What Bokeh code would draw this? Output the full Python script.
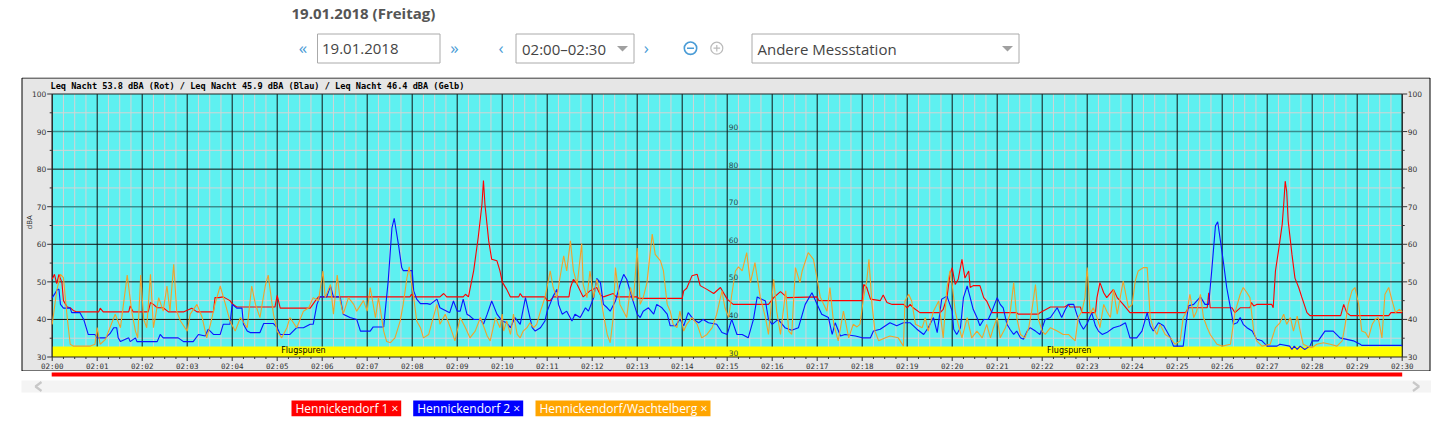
import math
from bokeh.plotting import figure
from bokeh.layouts import column
from bokeh.models import Range1d
from bokeh.embed import file_html
from bokeh.resources import INLINE
from bokeh.core.properties import value

# ---------------- data ----------------
minute_labels = ["02:00", "02:01", "02:02", "02:03", "02:04", "02:05", "02:06", "02:07",
                 "02:08", "02:09", "02:10", "02:11", "02:12", "02:13", "02:14", "02:15",
                 "02:16", "02:17", "02:18", "02:19", "02:20", "02:21", "02:22", "02:23",
                 "02:24", "02:25", "02:26", "02:27", "02:28", "02:29", "02:30"]
y_ticks = [30, 40, 50, 60, 70, 80, 90, 100]
mid_ticks = [30, 40, 50, 60, 70, 80, 90]
title_text = "Leq Nacht 53.8 dBA (Rot) / Leq Nacht 45.9 dBA (Blau) / Leq Nacht 46.4 dBA (Gelb)"
day_title = "19.01.2018 (Freitag)"
date_text = "19.01.2018"
time_text = "02:00\u201302:30"
station_text = "Andere Messstation"
legend_names = ["Hennickendorf 1", "Hennickendorf 2", "Hennickendorf/Wachtelberg"]
legend_colors = ["#ff0000", "#0000ff", "#ffa500"]
flug_label_t = [335, 1356]
flug_top = 32.8

# (seconds after 02:00, dBA)
red_pts = [
    (0, 50.7), (3, 52.0), (6, 49.5), (9, 52.0), (13, 49.8), (15, 45.0), (20, 43.3), (24, 43.1),
    (28, 42.4), (33, 42.0), (62, 42.0), (64, 43.0), (68, 42.0), (102, 42.0), (104, 43.6), (108, 42.0),
    (128, 42.0), (131, 44.5), (135, 44.0), (140, 43.1), (148, 43.1), (155, 42.0), (175, 42.0), (186, 43.0),
    (193, 42.0), (215, 42.0), (217, 45.8), (222, 45.8), (228, 46.0), (237, 45.0), (240, 44.2), (246, 43.3),
    (297, 43.3), (300, 46.4), (304, 43.0), (344, 43.0), (351, 45.0), (355, 46.0), (477, 46.0), (479, 46.7),
    (482, 46.0), (517, 46.0), (522, 46.9), (526, 46.0), (548, 46.0), (551, 46.7), (555, 46.0), (557, 48.0),
    (562, 53.0), (568, 61.8), (573, 70.6), (575, 77.0), (577, 70.6), (582, 60.9), (586, 56.0), (593, 55.6),
    (597, 52.9), (600, 50.0), (606, 48.0), (611, 46.0), (622, 46.0), (624, 46.9), (627, 46.0), (657, 46.0),
    (660, 45.0), (664, 45.0), (668, 46.0), (689, 46.0), (691, 48.5), (695, 50.7), (700, 49.3), (704, 47.6),
    (708, 46.0), (717, 47.6), (726, 48.5), (731, 46.5), (735, 46.0), (748, 46.9), (752, 46.0), (780, 46.0),
    (782, 45.6), (840, 45.6), (842, 47.6), (846, 48.3), (853, 51.6), (860, 52.0), (864, 49.0), (873, 48.0),
    (882, 46.9), (891, 48.5), (900, 45.4), (908, 44.0), (955, 44.0), (962, 45.8), (971, 47.4), (980, 45.8),
    (1020, 46.0), (1022, 45.0), (1080, 45.0), (1082, 49.3), (1086, 48.5), (1091, 45.4), (1104, 45.0), (1108, 46.5),
    (1113, 44.5), (1120, 44.0), (1135, 44.0), (1140, 43.1), (1144, 44.0), (1148, 43.1), (1157, 41.8), (1184, 41.8),
    (1188, 42.7), (1193, 45.8), (1197, 52.0), (1200, 53.8), (1204, 49.3), (1208, 50.7), (1213, 56.0), (1217, 51.0),
    (1222, 52.9), (1224, 48.5), (1228, 49.0), (1237, 49.0), (1242, 45.8), (1246, 44.9), (1253, 41.8), (1286, 41.8),
    (1288, 41.4), (1315, 41.4), (1317, 41.8), (1331, 43.3), (1350, 43.3), (1355, 44.0), (1357, 43.3), (1371, 43.3),
    (1373, 41.8), (1391, 41.8), (1393, 45.8), (1397, 49.8), (1402, 47.1), (1406, 45.8), (1415, 48.0), (1420, 45.8),
    (1428, 44.0), (1437, 41.8), (1511, 41.8), (1515, 43.1), (1540, 43.1), (1542, 47.1), (1544, 43.1), (1573, 43.1),
    (1577, 41.8), (1584, 43.1), (1597, 43.1), (1599, 44.5), (1602, 43.6), (1606, 44.0), (1626, 44.0), (1628, 43.1),
    (1631, 52.9), (1635, 58.2), (1640, 65.3), (1642, 70.6), (1644, 76.8), (1646, 74.0), (1648, 66.2), (1653, 57.3),
    (1657, 51.0), (1662, 48.5), (1666, 46.0), (1673, 41.8), (1677, 41.0), (1718, 41.0), (1722, 44.0), (1726, 41.8),
    (1731, 41.0), (1782, 41.0), (1785, 41.8), (1800, 41.8),
]

blue_pts = [
    (0, 45.8), (4, 47.0), (7, 48.0), (9, 48.0), (11, 44.0), (15, 43.0), (24, 43.0), (26, 41.8),
    (37, 41.8), (42, 40.0), (48, 36.0), (57, 36.0), (60, 35.1), (71, 35.1), (77, 36.2), (82, 37.8),
    (86, 37.8), (88, 35.1), (91, 34.1), (102, 35.1), (104, 34.1), (111, 35.1), (113, 34.1), (140, 34.1),
    (144, 36.0), (148, 35.1), (168, 35.1), (175, 34.1), (188, 34.1), (195, 36.0), (204, 35.6), (208, 37.4),
    (215, 36.0), (224, 36.0), (228, 38.7), (237, 38.7), (240, 44.0), (246, 43.0), (253, 43.0), (255, 38.7),
    (260, 36.9), (264, 36.5), (277, 36.5), (282, 38.9), (295, 38.9), (300, 37.8), (304, 36.0), (317, 36.0),
    (326, 37.8), (335, 37.8), (344, 38.7), (348, 38.7), (353, 44.0), (357, 46.0), (366, 46.0), (371, 48.9),
    (375, 46.0), (384, 46.0), (388, 41.4), (397, 40.5), (406, 40.0), (411, 36.9), (424, 36.9), (428, 38.0),
    (442, 38.0), (444, 42.2), (448, 50.2), (453, 64.4), (456, 66.9), (462, 59.5), (466, 53.8), (468, 53.0),
    (480, 53.0), (482, 47.6), (486, 45.4), (491, 44.2), (500, 44.2), (504, 44.0), (513, 45.4), (517, 43.1),
    (530, 41.8), (535, 44.9), (540, 42.2), (544, 42.2), (548, 45.4), (553, 41.4), (557, 40.9), (562, 40.0),
    (571, 40.0), (575, 38.7), (580, 41.4), (586, 44.9), (593, 41.4), (600, 39.6), (606, 39.1), (611, 37.8),
    (617, 40.5), (624, 38.7), (631, 45.8), (635, 42.2), (640, 37.8), (644, 36.9), (651, 37.8), (657, 39.6),
    (660, 42.2), (668, 46.2), (673, 48.0), (675, 44.0), (680, 41.4), (686, 42.2), (693, 39.6), (697, 41.4),
    (704, 40.5), (711, 43.1), (715, 42.2), (722, 45.8), (726, 50.9), (731, 49.8), (735, 44.0), (740, 43.1),
    (744, 42.2), (751, 44.9), (757, 49.3), (762, 52.0), (766, 50.7), (773, 45.8), (780, 41.4), (784, 40.5),
    (788, 42.2), (795, 43.1), (802, 41.4), (806, 44.0), (813, 43.1), (820, 41.4), (824, 38.3), (831, 38.3),
    (837, 40.0), (842, 38.3), (848, 41.8), (855, 40.0), (862, 39.1), (868, 40.0), (875, 39.1), (886, 38.7),
    (893, 36.5), (900, 36.0), (906, 40.0), (913, 36.0), (920, 36.0), (928, 35.1), (935, 40.0), (940, 46.0),
    (946, 45.4), (951, 44.9), (955, 40.0), (960, 38.7), (968, 40.0), (977, 37.8), (986, 37.1), (995, 37.8),
    (1004, 44.0), (1013, 47.1), (1020, 44.0), (1026, 41.4), (1035, 40.5), (1040, 36.0), (1044, 39.1), (1051, 35.6),
    (1057, 36.0), (1071, 35.6), (1080, 35.1), (1091, 35.1), (1095, 36.9), (1104, 37.4), (1117, 39.1), (1126, 38.3),
    (1135, 39.1), (1144, 39.1), (1153, 37.4), (1162, 36.0), (1168, 37.8), (1175, 40.5), (1180, 36.5), (1186, 45.4),
    (1193, 46.2), (1200, 42.2), (1202, 37.4), (1206, 36.0), (1211, 37.8), (1215, 45.8), (1220, 48.9), (1224, 45.8),
    (1228, 42.7), (1233, 40.5), (1237, 38.3), (1242, 40.0), (1248, 40.0), (1253, 42.2), (1260, 45.8), (1264, 44.0),
    (1268, 43.1), (1273, 38.7), (1277, 37.4), (1282, 36.0), (1286, 36.9), (1291, 35.1), (1295, 34.7), (1300, 36.9),
    (1304, 37.8), (1311, 36.9), (1317, 36.0), (1324, 40.0), (1331, 40.5), (1340, 43.1), (1346, 40.5), (1351, 42.7),
    (1355, 44.0), (1362, 44.0), (1366, 41.4), (1371, 38.7), (1375, 37.4), (1380, 38.9), (1386, 41.8), (1391, 38.3),
    (1395, 36.9), (1400, 36.0), (1406, 36.5), (1415, 37.8), (1424, 38.3), (1431, 39.1), (1437, 35.1), (1446, 35.1),
    (1453, 36.9), (1460, 41.8), (1464, 38.3), (1468, 36.9), (1475, 39.1), (1482, 38.3), (1491, 35.1), (1495, 32.9),
    (1508, 32.9), (1511, 37.8), (1515, 43.6), (1522, 44.0), (1531, 46.0), (1537, 44.0), (1542, 44.0), (1546, 52.9),
    (1551, 64.9), (1554, 66.0), (1557, 61.8), (1562, 54.7), (1566, 48.5), (1571, 43.1), (1575, 38.7), (1580, 39.1),
    (1584, 40.5), (1588, 38.7), (1593, 37.8), (1600, 36.9), (1606, 34.7), (1613, 34.3), (1620, 32.9), (1633, 32.9),
    (1637, 33.4), (1650, 32.9), (1653, 32.0), (1656, 32.9), (1660, 32.0), (1664, 32.9), (1670, 32.0), (1677, 32.9),
    (1680, 34.3), (1688, 34.3), (1697, 36.9), (1708, 36.9), (1717, 35.1), (1726, 34.7), (1735, 34.3), (1744, 33.4),
    (1746, 33.1), (1800, 33.1),
]

orange_pts = [
    (0, 38.7), (6, 47.6), (11, 52.0), (15, 51.1), (20, 40.5), (24, 33.4), (28, 32.9), (51, 32.9),
    (57, 33.4), (60, 37.8), (64, 33.4), (71, 34.7), (77, 37.8), (84, 41.4), (91, 37.8), (95, 44.0),
    (100, 51.8), (106, 42.2), (111, 36.9), (114, 35.1), (118, 51.8), (122, 40.0), (126, 37.8), (131, 52.0),
    (135, 37.8), (142, 45.8), (148, 42.2), (153, 48.9), (157, 42.2), (162, 54.7), (166, 42.2), (171, 39.6),
    (180, 36.9), (184, 41.4), (193, 44.0), (200, 40.5), (206, 35.1), (211, 38.7), (217, 44.0), (224, 48.9),
    (231, 44.0), (237, 39.6), (244, 36.9), (251, 40.5), (260, 37.8), (266, 48.9), (271, 44.0), (277, 40.5),
    (284, 48.9), (288, 51.8), (295, 41.4), (300, 36.9), (306, 35.1), (313, 37.8), (317, 40.5), (326, 37.8),
    (335, 42.2), (342, 43.1), (348, 45.8), (355, 45.0), (361, 52.9), (364, 45.8), (371, 49.3), (375, 41.4),
    (380, 51.8), (384, 45.0), (388, 41.4), (395, 45.8), (402, 44.0), (406, 42.2), (415, 45.0), (420, 42.2),
    (424, 48.5), (431, 40.5), (435, 45.8), (442, 36.9), (446, 34.1), (451, 33.8), (457, 35.1), (464, 39.6),
    (468, 44.0), (473, 51.1), (476, 54.0), (482, 45.8), (486, 39.6), (491, 37.8), (495, 35.1), (502, 36.0),
    (508, 40.5), (513, 44.0), (517, 38.7), (524, 41.4), (531, 37.8), (537, 34.3), (544, 40.5), (551, 37.8),
    (557, 35.1), (564, 36.9), (571, 40.5), (580, 35.6), (584, 34.3), (591, 40.5), (597, 37.8), (600, 41.4),
    (602, 36.9), (606, 39.6), (611, 36.0), (615, 41.4), (620, 36.0), (624, 35.1), (628, 36.9), (633, 37.8),
    (637, 39.1), (642, 37.8), (646, 38.7), (651, 42.2), (657, 45.8), (664, 52.9), (668, 48.5), (673, 45.8),
    (677, 51.1), (682, 56.9), (686, 52.9), (691, 60.9), (695, 52.9), (700, 49.3), (706, 60.2), (708, 49.3),
    (713, 45.8), (717, 52.9), (722, 45.8), (726, 50.7), (731, 46.5), (735, 41.4), (740, 36.0), (744, 33.8),
    (748, 40.5), (751, 53.8), (757, 44.0), (766, 40.5), (771, 48.5), (775, 45.0), (780, 59.0), (784, 44.0),
    (788, 45.8), (793, 49.8), (800, 62.7), (804, 57.3), (811, 55.6), (815, 52.9), (820, 44.0), (824, 42.2),
    (828, 38.7), (833, 37.8), (837, 42.2), (842, 36.9), (846, 38.7), (853, 40.5), (860, 38.7), (866, 35.1),
    (873, 36.0), (880, 37.8), (886, 41.4), (893, 47.6), (897, 43.1), (902, 40.5), (906, 46.5), (911, 52.9),
    (915, 54.0), (920, 52.9), (926, 57.8), (931, 49.8), (937, 55.1), (944, 46.0), (951, 40.5), (955, 36.0),
    (962, 50.7), (966, 42.2), (971, 36.0), (978, 47.6), (982, 36.9), (986, 36.0), (991, 53.8), (997, 49.8),
    (1000, 52.9), (1008, 57.8), (1015, 56.0), (1020, 50.7), (1024, 46.0), (1033, 42.2), (1037, 48.5), (1042, 38.7),
    (1048, 34.3), (1055, 42.2), (1062, 35.1), (1068, 38.7), (1073, 38.0), (1077, 38.7), (1082, 46.0), (1086, 50.2),
    (1089, 56.0), (1093, 44.0), (1097, 36.9), (1102, 34.3), (1111, 35.1), (1117, 35.6), (1128, 35.1), (1135, 32.9),
    (1137, 44.9), (1142, 46.7), (1146, 44.9), (1151, 38.7), (1160, 37.8), (1164, 40.5), (1168, 36.9), (1175, 42.2),
    (1182, 44.9), (1188, 35.1), (1193, 48.5), (1197, 52.9), (1200, 49.3), (1204, 42.2), (1208, 38.7), (1213, 35.1),
    (1220, 40.5), (1226, 35.1), (1233, 36.9), (1240, 35.1), (1246, 38.7), (1251, 35.1), (1255, 37.8), (1260, 40.5),
    (1264, 35.1), (1271, 37.8), (1277, 41.4), (1282, 49.8), (1286, 40.5), (1291, 36.0), (1297, 35.1), (1302, 37.8),
    (1306, 42.2), (1311, 49.3), (1315, 40.0), (1320, 36.9), (1324, 36.0), (1331, 37.8), (1340, 36.9), (1348, 36.0),
    (1355, 36.0), (1364, 34.3), (1368, 40.5), (1373, 42.2), (1377, 45.8), (1380, 53.8), (1384, 41.4), (1388, 43.1),
    (1393, 40.5), (1397, 37.8), (1402, 44.0), (1406, 42.2), (1411, 40.5), (1415, 48.0), (1420, 41.4), (1424, 45.8),
    (1428, 50.2), (1435, 43.1), (1440, 44.0), (1444, 50.2), (1448, 52.9), (1455, 53.8), (1460, 53.8), (1464, 40.5),
    (1468, 37.8), (1473, 36.0), (1477, 38.7), (1484, 36.0), (1491, 35.1), (1497, 33.4), (1504, 34.3), (1508, 40.5),
    (1513, 42.2), (1517, 46.7), (1522, 40.5), (1526, 42.2), (1531, 46.7), (1535, 40.5), (1540, 37.8), (1544, 36.0),
    (1553, 33.4), (1560, 32.9), (1571, 33.4), (1577, 41.8), (1584, 46.7), (1588, 48.5), (1593, 47.1), (1597, 45.8),
    (1602, 36.9), (1606, 34.3), (1613, 32.9), (1624, 33.4), (1631, 37.8), (1637, 39.1), (1642, 41.4), (1646, 38.7),
    (1651, 40.5), (1655, 36.9), (1660, 40.9), (1664, 36.9), (1668, 33.4), (1673, 32.9), (1680, 32.5), (1686, 33.4),
    (1695, 33.8), (1704, 33.4), (1713, 32.9), (1720, 34.3), (1724, 38.7), (1728, 44.0), (1733, 47.6), (1737, 48.5),
    (1742, 44.0), (1746, 36.9), (1751, 36.5), (1755, 35.1), (1760, 38.7), (1764, 40.0), (1768, 40.5), (1773, 35.1),
    (1777, 46.7), (1782, 48.5), (1786, 45.4), (1791, 41.8), (1796, 42.7), (1800, 42.0),
]

# ---------------- layout constants (page pixels) ----------------
PAGE_L, PAGE_R = 0, 1432
W = PAGE_R - PAGE_L
X0 = 51.7            # page x of 02:00
PXS = 1350 / 1800.0  # px per second
Y30 = 356.5          # page y of 30 dB
PXDB = 263 / 70.0    # px per dB
CH_TOP, CH_BOT = 77, 371
PAGE_B = 423


def sx(px):
    return (px - X0) / PXS


def sy(py):
    return 30 + (Y30 - py) / PXDB


FONT = value("Open Sans")
BLUE_UI = "#4a9cd6"

# ---------------- header ----------------
hdr = figure(width=W, height=CH_TOP, x_range=Range1d(PAGE_L, PAGE_R), y_range=Range1d(CH_TOP, 0),
             x_axis_type=None, y_axis_type=None, toolbar_location=None, output_backend="svg",
             min_border=0)
hdr.outline_line_color = None
hdr.text(x=[291], y=[12], text=[day_title], text_font=FONT, text_font_size="15px",
         text_font_style="bold", text_color="#555555", text_align="left", text_baseline="middle")
hdr.quad(left=[317, 515.5, 751.5], right=[439.5, 633.5, 1018.5], top=[33.5, 33.5, 33.5],
         bottom=[62.5, 62.5, 62.5], fill_color="white", line_color="#aaaaaa", line_width=1)
hdr.text(x=[321.5, 521.5, 757], y=[48.5, 48.5, 48.5], text=[date_text, time_text, station_text],
         text_font=FONT, text_font_size="15px", text_color="#444444", text_align="left",
         text_baseline="middle")
hdr.text(x=[302.5, 454, 500.5, 645.8], y=[47, 47, 47, 47],
         text=["\u00ab", "\u00bb", "\u2039", "\u203a"], text_font=FONT, text_font_size="17px",
         text_color=BLUE_UI, text_align="center", text_baseline="middle")
# select arrows
for cx in (622, 1007):
    hdr.patch(x=[cx - 5.5, cx + 5.5, cx], y=[45.5, 45.5, 51], fill_color="#a0a0a0", line_color=None)
# zoom buttons
hdr.circle(x=[690], y=[47.7], radius=6.2, fill_color=None, line_color=BLUE_UI, line_width=1.6)
hdr.segment(x0=[686.5], y0=[47.7], x1=[693.5], y1=[47.7], line_color=BLUE_UI, line_width=1.6)
hdr.circle(x=[716.3], y=[47.7], radius=6.0, fill_color=None, line_color="#bbbbbb", line_width=1.2)
hdr.segment(x0=[713, 716.3], y0=[47.7, 44.4], x1=[719.6, 716.3], y1=[47.7, 51.0],
            line_color="#bbbbbb", line_width=1.2)

# ---------------- chart ----------------
ch = figure(width=W, height=CH_BOT - CH_TOP,
            x_range=Range1d(sx(PAGE_L), sx(PAGE_R)), y_range=Range1d(sy(CH_BOT), sy(CH_TOP)),
            x_axis_type=None, y_axis_type=None, toolbar_location=None, output_backend="svg",
            min_border=0)
ch.outline_line_color = None
ch.background_fill_color = "white"

# gray frame
ch.quad(left=[sx(21.5)], right=[sx(1429.5)], top=[sy(77.5)], bottom=[sy(370.5)],
        fill_color="#e6e6e6", line_color="#000000", line_width=1)
# plot area
t_end = 1800
ch.quad(left=[0], right=[t_end], bottom=[30], top=[100], fill_color="#5ef0f0", line_color=None)

# light grid
q_t = [t for t in range(15, t_end, 15) if t % 60]
ch.segment(x0=q_t, y0=[30] * len(q_t), x1=q_t, y1=[100] * len(q_t), line_color="#d4d4d4", line_width=1)
h_light = [35, 45, 55, 65, 75, 85, 95]
ch.segment(x0=[0] * len(h_light), y0=h_light, x1=[t_end] * len(h_light), y1=h_light,
           line_color="#d4d4d4", line_width=1)
# teal lines
h_teal = [70, 90]
ch.segment(x0=[0] * 2, y0=h_teal, x1=[t_end] * 2, y1=h_teal, line_color="#3a8e8e", line_width=1.6)
# black grid
m_t = [60 * i for i in range(len(minute_labels))]
ch.segment(x0=m_t, y0=[30] * len(m_t), x1=m_t, y1=[100] * len(m_t), line_color="#111111", line_width=1)
h_black = [40, 50, 60, 80]
ch.segment(x0=[0] * len(h_black), y0=h_black, x1=[t_end] * len(h_black), y1=h_black,
           line_color="#111111", line_width=1)

# Flugspuren band
ch.quad(left=[0], right=[t_end], bottom=[30], top=[flug_top], fill_color="#ffff00", line_color=None)
ch.text(x=flug_label_t, y=[31.6] * len(flug_label_t), text=["Flugspuren"] * len(flug_label_t),
        text_font=value("DejaVu Sans"), text_font_size="8px", text_color="#000000",
        text_align="center", text_baseline="middle")

# plot border
ch.quad(left=[0], right=[t_end], bottom=[30], top=[100], fill_color=None, line_color="#222222",
        line_width=1)

# axis ticks
tick_major = 5 / PXS
tick_minor = 2.5 / PXS
minor_y = [35, 45, 55, 65, 75, 85, 95]
ch.segment(x0=[-tick_major] * len(y_ticks), y0=y_ticks, x1=[0] * len(y_ticks), y1=y_ticks,
           line_color="#333333", line_width=1)
ch.segment(x0=[-tick_minor] * len(minor_y), y0=minor_y, x1=[0] * len(minor_y), y1=minor_y,
           line_color="#333333", line_width=1)
ch.segment(x0=[t_end] * len(y_ticks), y0=y_ticks, x1=[t_end + tick_major] * len(y_ticks), y1=y_ticks,
           line_color="#333333", line_width=1)
ch.segment(x0=[t_end] * len(minor_y), y0=minor_y, x1=[t_end + tick_minor] * len(minor_y), y1=minor_y,
           line_color="#333333", line_width=1)
dy_major = 4 / PXDB
dy_minor = 2 / PXDB
ch.segment(x0=m_t, y0=[30] * len(m_t), x1=m_t, y1=[30 - dy_major] * len(m_t),
           line_color="#333333", line_width=1)
ch.segment(x0=q_t, y0=[30] * len(q_t), x1=q_t, y1=[30 - dy_minor] * len(q_t),
           line_color="#333333", line_width=1)

# data lines
for pts, col in ((red_pts, "#ff0000"), (blue_pts, "#0a14ff"), (orange_pts, "#f2a22a")):
    ch.line(x=[p[0] for p in pts], y=[p[1] for p in pts], line_color=col, line_width=1.1)

# tick labels
ch.text(x=[0] * len(y_ticks), y=y_ticks, text=[str(v) for v in y_ticks], x_offset=-6,
        text_font=value("DejaVu Sans"), text_font_size="7.5px", text_color="#333333",
        text_align="right", text_baseline="middle")
ch.text(x=[t_end] * len(y_ticks), y=y_ticks, text=[str(v) for v in y_ticks], x_offset=5.5,
        text_font=value("DejaVu Sans"), text_font_size="7.5px", text_color="#333333",
        text_align="left", text_baseline="middle")
ch.text(x=[900] * len(mid_ticks), y=mid_ticks, text=[str(v) for v in mid_ticks], x_offset=1.5,
        y_offset=-4.5, text_font=value("DejaVu Sans"), text_font_size="7.5px", text_color="#2a4a4a",
        text_align="left", text_baseline="middle")
ch.text(x=m_t, y=[30] * len(m_t), text=minute_labels, y_offset=9.5,
        text_font=value("DejaVu Sans Mono"), text_font_size="7.5px", text_color="#333333",
        text_align="center", text_baseline="middle")
ch.text(x=[sx(29.3)], y=[sy(221.7)], text=["dBA"], angle=math.pi / 2,
        text_font=value("DejaVu Sans"), text_font_size="7px", text_color="#333333",
        text_align="center", text_baseline="middle")
ch.text(x=[sx(50)], y=[sy(85.6)], text=[title_text], text_font=value("DejaVu Sans Mono"),
        text_font_size="8.6px", text_font_style="bold", text_color="#000000",
        text_align="left", text_baseline="middle")

# ---------------- footer ----------------
ftr = figure(width=W, height=PAGE_B - CH_BOT, x_range=Range1d(PAGE_L, PAGE_R),
             y_range=Range1d(PAGE_B, CH_BOT),
             x_axis_type=None, y_axis_type=None, toolbar_location=None, output_backend="svg",
             min_border=0)
ftr.outline_line_color = None
ftr.quad(left=[X0 - 0.5], right=[X0 + 1350], top=[372], bottom=[376], fill_color="#ff0000", line_color=None)
ftr.quad(left=[21], right=[1430.5], top=[380], bottom=[392], fill_color="#f4f4f4", line_color=None)
ftr.line(x=[41, 35, 41], y=[381.5, 386, 390.5], line_color="#c8c8c8", line_width=2.2)
ftr.line(x=[1412.5, 1418.5, 1412.5], y=[381.5, 386, 390.5], line_color="#c8c8c8", line_width=2.2)

leg_left = [291, 412.7, 535]
leg_right = [400.7, 522.7, 710]
ftr.quad(left=leg_left, right=leg_right, top=[400] * 3, bottom=[415.7] * 3,
         fill_color=legend_colors, line_color=None)
ftr.text(x=[l + 4 for l in leg_left], y=[408.2] * 3, text=[n + " \u00d7" for n in legend_names],
         text_font=FONT, text_font_size="12px", text_color="white", text_align="left",
         text_baseline="middle")

layout = column(hdr, ch, ftr)
open("out.html", "w").write(file_html(layout, INLINE, "Leq Nacht"))
